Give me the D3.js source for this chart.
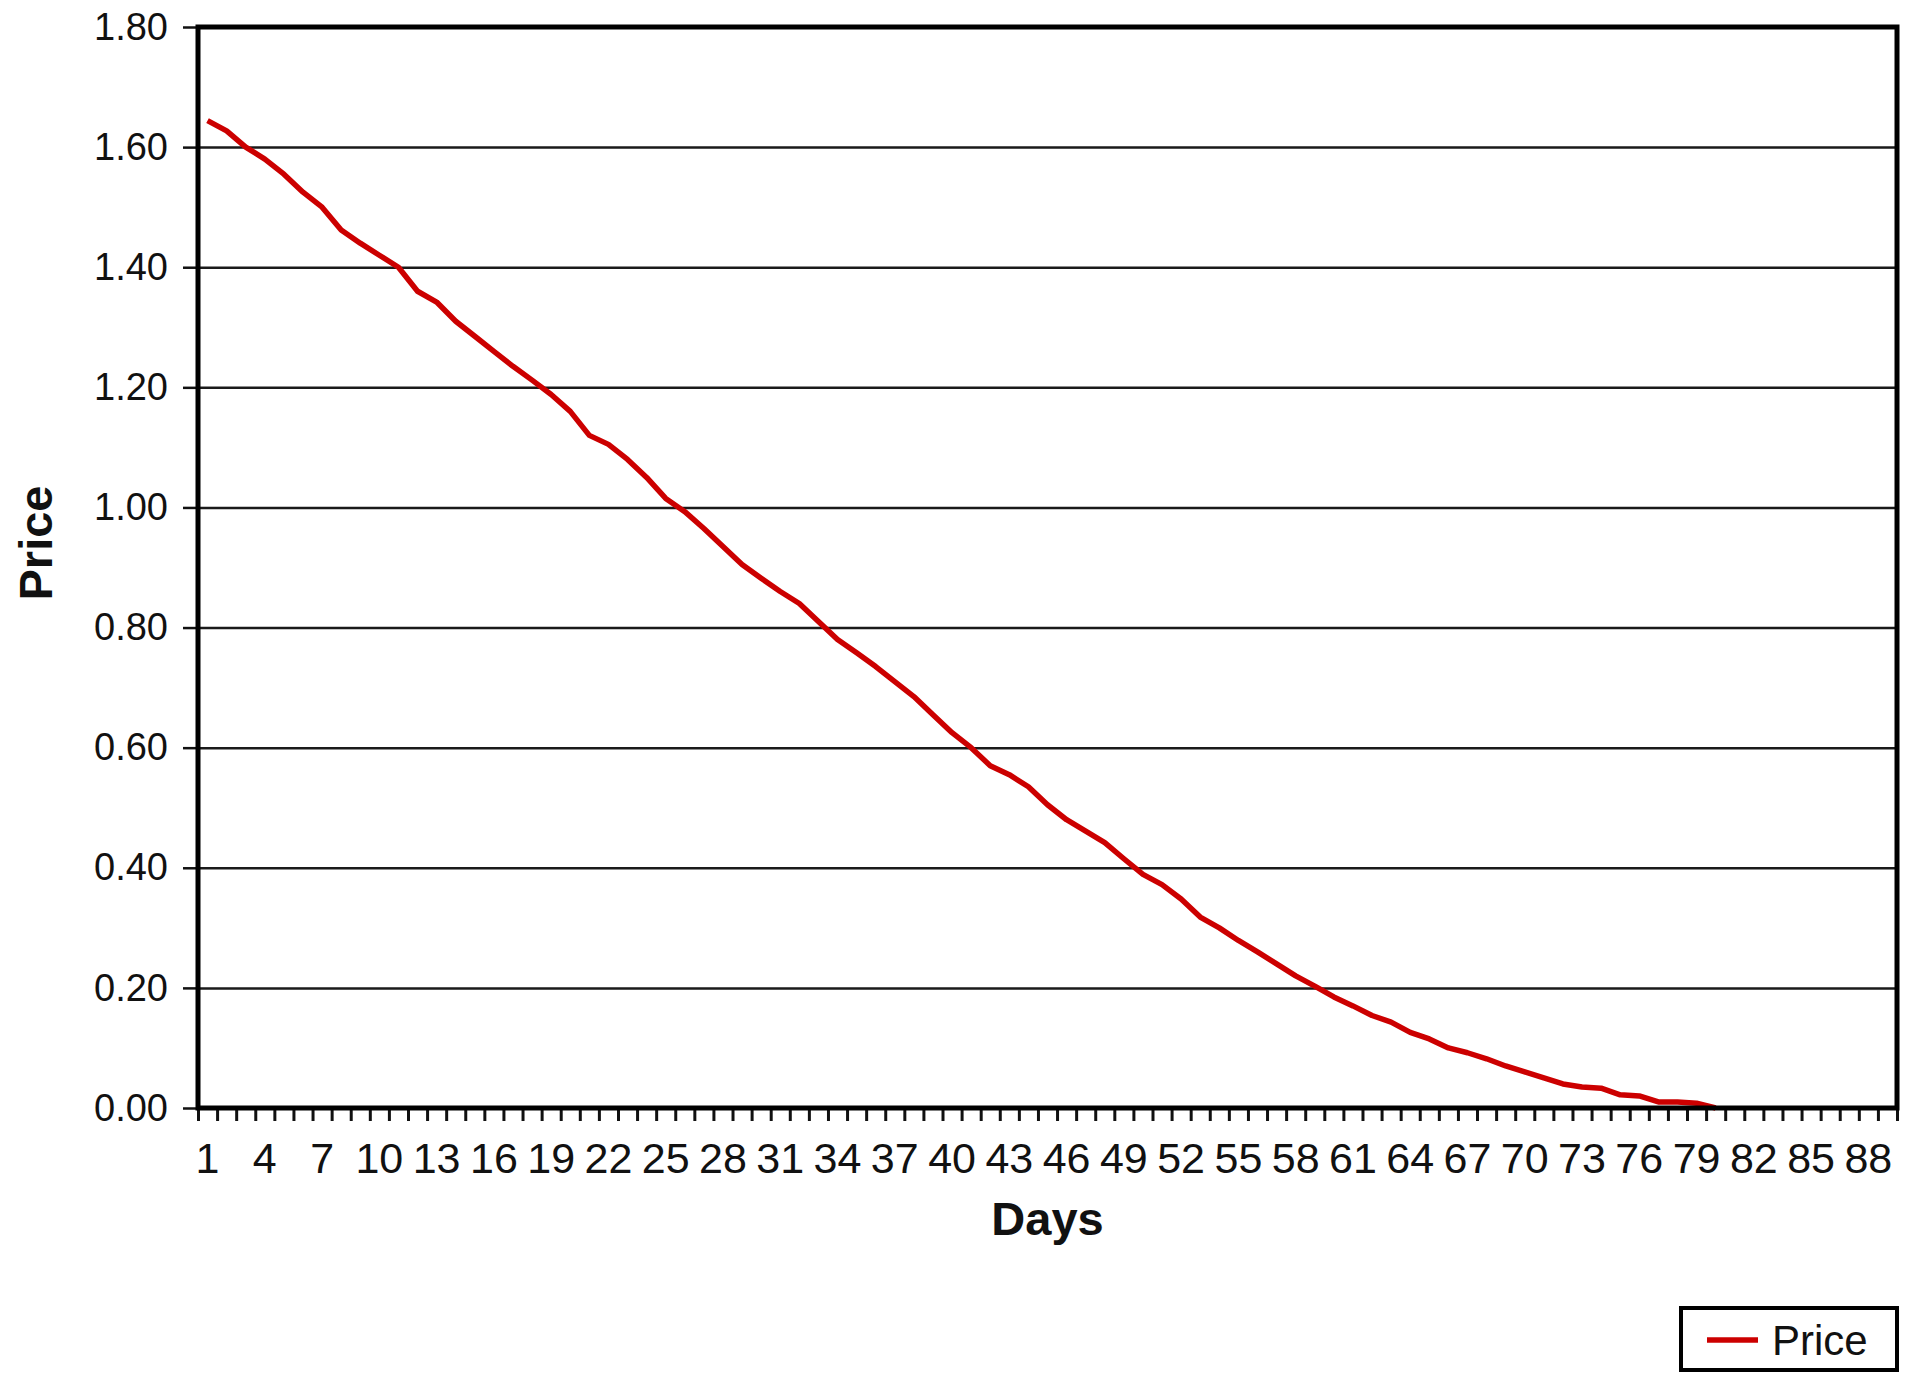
<!DOCTYPE html>
<html>
<head>
<meta charset="utf-8">
<script src="https://cdnjs.cloudflare.com/ajax/libs/d3/7.8.5/d3.min.js"></script>
<style>
  body { margin: 0; background: #fff; }
  text { font-family: "Liberation Sans", Arial, Helvetica, sans-serif; fill: #111; }
</style>
</head>
<body>
<div id="chart"></div>
<script>
// categories on the x axis (days 1..89)
var days = [1, 2, 3, 4, 5, 6, 7, 8, 9, 10, 11, 12, 13, 14, 15, 16, 17, 18, 19, 20,
    21, 22, 23, 24, 25, 26, 27, 28, 29, 30, 31, 32, 33, 34, 35, 36, 37, 38, 39, 40,
    41, 42, 43, 44, 45, 46, 47, 48, 49, 50, 51, 52, 53, 54, 55, 56, 57, 58, 59, 60,
    61, 62, 63, 64, 65, 66, 67, 68, 69, 70, 71, 72, 73, 74, 75, 76, 77, 78, 79, 80,
    81, 82, 83, 84, 85, 86, 87, 88, 89];

// price per day (days 1..80, nothing after)
var prices = [1.644, 1.627, 1.600, 1.580, 1.555, 1.525, 1.500, 1.462, 1.440, 1.420,
    1.400, 1.360, 1.342, 1.310, 1.285, 1.260, 1.235, 1.212, 1.188, 1.160,
    1.120, 1.105, 1.080, 1.050, 1.015, 0.993, 0.965, 0.935, 0.905, 0.882,
    0.860, 0.840, 0.810, 0.780, 0.758, 0.735, 0.710, 0.685, 0.655, 0.625,
    0.600, 0.570, 0.555, 0.535, 0.505, 0.480, 0.461, 0.442, 0.415, 0.389,
    0.372, 0.348, 0.318, 0.300, 0.279, 0.260, 0.240, 0.220, 0.203, 0.185,
    0.170, 0.154, 0.143, 0.126, 0.115, 0.100, 0.092, 0.082, 0.070, 0.060,
    0.050, 0.040, 0.035, 0.033, 0.022, 0.020, 0.010, 0.010, 0.008, 0.000];

// tick labels
var xTickDays = [1, 4, 7, 10, 13, 16, 19, 22, 25, 28, 31, 34, 37, 40, 43, 46,
    49, 52, 55, 58, 61, 64, 67, 70, 73, 76, 79, 82, 85, 88];
var yTicks = [0, 0.2, 0.4, 0.6, 0.8, 1.0, 1.2, 1.4, 1.6, 1.8];

var seriesName = "Price";
var lineColor = "#cc0000";

var width = 1920, height = 1380;
var plot = { left: 198, top: 27, right: 1897, bottom: 1108 };

var svg = d3.select("#chart")
    .append("svg")
    .attr("width", width)
    .attr("height", height);

// scales
var x = d3.scaleBand()
    .domain(days)
    .range([plot.left, plot.right])
    .padding(0);

// linear scale on the band edges, used for the little tick marks
var xEdge = d3.scaleLinear()
    .domain([0, days.length])
    .range([plot.left, plot.right]);

var y = d3.scaleLinear()
    .domain([0, 1.8])
    .range([plot.bottom, plot.top]);

// horizontal gridlines
svg.append("g")
    .attr("class", "grid")
    .attr("transform", "translate(" + plot.left + ",0)")
    .call(d3.axisLeft(y).tickValues(yTicks).tickSize(-(plot.right - plot.left)).tickFormat(""))
    .call(function (g) { g.select(".domain").remove(); })
    .selectAll("line")
    .attr("stroke", "#1a1a1a")
    .attr("stroke-width", 2.5);

// y axis with labels
var yAxis = svg.append("g")
    .attr("transform", "translate(" + plot.left + ",0)")
    .call(d3.axisLeft(y).tickValues(yTicks).tickFormat(d3.format(".2f")).tickSize(15).tickPadding(15));
yAxis.select(".domain").remove();
yAxis.selectAll("line").attr("stroke", "#111").attr("stroke-width", 2.5);
yAxis.selectAll("text")
    .style("font-size", "38px")
    .attr("fill", "#111");

// x axis small ticks at every category edge
var xTicks = svg.append("g")
    .attr("transform", "translate(0," + plot.bottom + ")")
    .call(d3.axisBottom(xEdge).tickValues(d3.range(0, days.length + 1)).tickSize(13).tickFormat(""));
xTicks.select(".domain").remove();
xTicks.selectAll("line").attr("stroke", "#111").attr("stroke-width", 3);

// x axis labels, every third day
var xAxis = svg.append("g")
    .attr("transform", "translate(0," + plot.bottom + ")")
    .call(d3.axisBottom(x).tickValues(xTickDays).tickSize(0).tickPadding(34));
xAxis.select(".domain").remove();
xAxis.selectAll("text")
    .style("font-size", "43px")
    .attr("fill", "#111");

// the price line
var line = d3.line()
    .x(function (d, i) { return x(days[i]) + x.bandwidth() / 2; })
    .y(function (d) { return y(d); });

svg.append("path")
    .datum(prices)
    .attr("d", line)
    .attr("fill", "none")
    .attr("stroke", lineColor)
    .attr("stroke-width", 5.5)
    .attr("stroke-linejoin", "round")
    .attr("stroke-linecap", "butt");

// plot frame
svg.append("rect")
    .attr("x", plot.left)
    .attr("y", plot.top)
    .attr("width", plot.right - plot.left)
    .attr("height", plot.bottom - plot.top)
    .attr("fill", "none")
    .attr("stroke", "#000")
    .attr("stroke-width", 5);

// axis titles
svg.append("text")
    .attr("x", (plot.left + plot.right) / 2)
    .attr("y", 1235)
    .attr("text-anchor", "middle")
    .style("font-size", "47px")
    .style("font-weight", "bold")
    .text("Days");

svg.append("text")
    .attr("transform", "translate(52,543) rotate(-90)")
    .attr("text-anchor", "middle")
    .style("font-size", "47px")
    .style("font-weight", "bold")
    .text("Price");

// legend box
var legend = svg.append("g").attr("class", "legend");
legend.append("rect")
    .attr("x", 1681)
    .attr("y", 1308)
    .attr("width", 216)
    .attr("height", 62)
    .attr("fill", "#fff")
    .attr("stroke", "#000")
    .attr("stroke-width", 4);
legend.append("line")
    .attr("x1", 1707)
    .attr("x2", 1758)
    .attr("y1", 1340)
    .attr("y2", 1340)
    .attr("stroke", lineColor)
    .attr("stroke-width", 5.5);
legend.append("text")
    .attr("x", 1772)
    .attr("y", 1355)
    .style("font-size", "42px")
    .text(seriesName);
</script>
</body>
</html>
